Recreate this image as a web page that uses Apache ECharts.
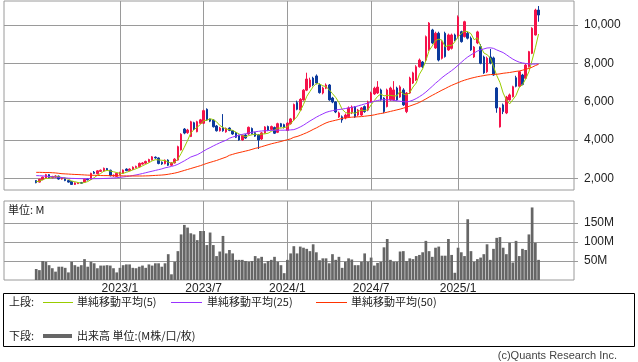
<!DOCTYPE html>
<html><head><meta charset="utf-8">
<script src="https://cdn.jsdelivr.net/npm/echarts@6/dist/echarts.min.js"></script>
<style>html,body{margin:0;padding:0;background:#fff}#c{width:638px;height:362px}</style>
</head><body><div id="c"></div>
<script>
// ---- weekly data from 2022/07/04 to 2025/06/30 (157 weeks) ----
const openP = [1880,1800,1930,2000,2190,2030,2060,2110,1960,2000,1880,1830,1680,1720,1780,1800,1960,1940,2320,2240,2360,2380,2510,2420,2130,2100,2200,2260,2480,2400,2460,2560,2600,2740,2790,2860,2960,3100,3060,2840,2760,2950,2680,2800,2950,3480,4570,4380,4180,4900,4430,4870,4870,5600,5080,5040,4730,4480,4630,4420,4620,4480,4380,4240,4000,4260,4310,4600,4380,4260,4050,4370,4700,4550,4650,4400,4850,4800,4500,4850,5050,5950,5560,6090,6600,6770,7230,7340,6870,6450,6700,6870,6190,5980,5200,5210,5150,5210,5410,5720,5300,5300,5740,5560,5980,6400,6450,6610,6190,5740,6090,6090,6710,6240,6610,5480,6450,6970,7130,7820,8070,8170,8700,9740,8800,9570,8260,9570,8700,8780,9480,9390,9650,9390,9570,9310,8330,9060,8870,8330,7560,8330,8280,6710,4680,5830,5410,6090,6260,7250,6800,7390,7220,7820,8520,9480,10780];
const closeP = [1770,1950,2060,2190,2030,2090,2120,1960,2000,1880,1800,1680,1760,1760,1740,1950,1920,2260,2260,2390,2420,2520,2440,2140,2160,2260,2300,2430,2400,2480,2580,2620,2780,2800,2880,2980,3120,3060,2770,2750,2940,2680,2800,3000,3650,4300,4360,4520,4950,4570,4950,5050,5530,5050,4980,4690,4480,4620,4480,4600,4500,4310,4140,4000,4240,4100,4660,4330,4200,4000,4370,4680,4500,4700,4350,4850,4700,4650,4880,5100,5850,5600,6120,6600,7180,7130,6870,6970,6470,6710,6870,6090,5980,5460,5410,5040,5300,5670,5720,5200,5560,5670,5480,5980,6450,6700,6760,6090,5480,6610,6710,6610,6090,6770,5830,6450,7230,7500,7820,8170,7820,9390,10100,9060,9570,8170,9130,8350,9480,9480,9220,10420,9130,10170,9310,8700,8850,9640,8000,7500,8270,8020,7390,5670,5670,5480,6240,6350,6780,6800,7560,6900,7910,8610,9830,10780,10520];
const lowP = [1740,1780,1900,1980,2000,2000,2030,1930,1930,1850,1770,1650,1650,1700,1710,1780,1890,1920,2230,2210,2330,2350,2410,2100,2080,2070,2170,2230,2370,2370,2430,2530,2570,2710,2750,2830,2930,3020,2730,2700,2730,2640,2650,2770,2920,3450,4300,4320,4150,4520,4400,4830,4830,5000,4930,4650,4440,4440,4430,4380,4460,4270,4100,3960,3960,4060,4270,4290,4160,3530,4000,4330,4460,4500,4310,4360,4660,4600,4460,4800,5000,5550,5520,6050,6550,6700,6800,6900,6420,6380,6650,6050,5920,5400,5150,4900,5080,5150,5350,5150,5250,5250,5420,5500,5950,6350,6400,6050,5400,5700,6050,6050,6050,6200,5780,5400,6400,6920,7080,7780,7750,8100,8650,9000,8750,8100,8200,8300,8650,8720,9150,9300,9080,9350,9250,8650,8280,9000,7950,7450,7500,7950,7350,5420,4650,5350,5350,6050,6220,6750,6750,6850,7180,7780,8480,9450,10170];
const highP = [1900,1970,2090,2230,2220,2130,2160,2140,2040,2030,1910,1850,1790,1800,1810,1980,2000,2290,2380,2420,2460,2560,2540,2450,2200,2290,2340,2460,2520,2520,2620,2660,2820,2840,2920,3020,3160,3140,3090,2880,2980,2990,2840,3050,3700,4350,4620,4580,5000,4950,5000,5100,5580,5650,5120,5080,4780,4680,5350,4650,4660,4520,4420,4280,4280,4300,4700,4650,4420,4300,4420,4720,4750,4750,4700,4900,4890,4850,4930,5150,5900,6050,6180,6650,7510,7250,7300,7420,6950,6780,6950,6920,6250,6020,5480,5280,5380,5750,5800,5760,5620,5720,5800,6050,6520,6780,7070,6680,6230,6680,6780,7070,6780,6850,6700,6500,7300,7560,7900,8250,8120,9450,10150,9800,9650,9650,9200,9650,9550,9550,9550,10500,9700,10220,9650,9400,8900,9700,9000,8400,8350,8750,8350,6760,5700,5900,6300,6420,6830,7350,7600,7450,7960,8650,9880,10850,10990];
const ma5 = [1820,1850,1920,1990,2000,2060,2100,2080,2040,2010,1950,1860,1820,1780,1750,1780,1830,1930,2030,2160,2250,2370,2410,2380,2340,2300,2260,2260,2310,2370,2440,2500,2570,2650,2730,2810,2910,2970,2960,2940,2930,2840,2790,2830,3010,3290,3620,3970,4360,4540,4670,4810,5010,5030,5110,5060,4950,4760,4650,4570,4540,4500,4410,4310,4240,4160,4230,4270,4310,4260,4310,4320,4350,4450,4520,4620,4620,4650,4690,4840,5040,5220,5510,5850,6270,6530,6780,6950,6920,6830,6780,6620,6420,6220,5960,5600,5440,5380,5430,5390,5490,5560,5530,5580,5830,6060,6270,6400,6300,6330,6330,6300,6300,6560,6400,6350,6470,6760,6970,7430,7710,8140,8660,8910,9190,9260,9210,8860,8940,8920,9130,9390,9550,9680,9650,9550,9230,9330,8900,8540,8450,8290,7840,7370,7000,6450,6090,5880,6100,6330,6750,6880,7190,7560,8160,8810,9530];
const ma25 = [2140,2135,2125,2110,2095,2080,2065,2050,2035,2020,2005,1995,1990,1985,1982,1980,1980,1980,1980,1982,1985,1990,1995,2005,2015,2030,2050,2070,2090,2115,2145,2175,2210,2250,2290,2330,2370,2410,2450,2490,2545,2580,2620,2665,2730,2820,2910,3010,3110,3170,3230,3320,3420,3520,3600,3690,3770,3850,3920,3990,4090,4150,4200,4250,4290,4330,4370,4400,4430,4450,4470,4480,4490,4500,4505,4510,4510,4510,4515,4525,4540,4600,4680,4770,4880,4990,5090,5190,5280,5360,5440,5490,5530,5560,5590,5610,5640,5670,5700,5730,5780,5830,5880,5920,5970,6020,6060,6090,6100,6100,6090,6070,6040,6020,6000,5980,6020,6080,6160,6260,6370,6500,6650,6800,6960,7100,7250,7380,7500,7620,7750,7900,8050,8200,8330,8440,8540,8640,8700,8750,8800,8810,8780,8700,8630,8560,8450,8330,8220,8130,8060,8020,7990,7970,7960,7960,7970];
const ma50 = [2310,2310,2305,2300,2300,2290,2280,2260,2240,2230,2220,2210,2200,2195,2185,2175,2165,2160,2155,2150,2145,2140,2140,2135,2135,2130,2130,2125,2125,2120,2120,2120,2120,2120,2125,2130,2140,2150,2160,2170,2185,2210,2240,2270,2310,2360,2410,2460,2510,2560,2610,2660,2720,2780,2830,2880,2930,2990,3050,3110,3200,3250,3300,3340,3380,3420,3460,3510,3560,3600,3650,3700,3750,3800,3840,3880,3920,3970,4010,4060,4140,4180,4240,4310,4380,4460,4550,4630,4720,4810,4890,4950,4990,5030,5070,5130,5150,5170,5190,5200,5210,5220,5240,5260,5280,5310,5350,5380,5410,5450,5490,5530,5570,5610,5660,5710,5770,5830,5890,5960,6050,6140,6240,6330,6420,6510,6600,6680,6770,6850,6920,6990,7060,7120,7170,7220,7260,7300,7330,7360,7390,7410,7420,7430,7450,7480,7500,7520,7550,7580,7600,7640,7690,7730,7800,7880,7950];
const volumeM = [29,26,50,48,39,31,22,35,35,32,20,48,39,35,39,55,35,48,44,31,38,38,39,38,31,20,32,39,41,41,32,31,35,38,32,41,38,44,44,35,44,68,15,48,76,120,145,138,123,120,105,129,129,92,125,92,63,75,116,70,79,70,53,53,53,50,48,50,63,57,61,44,50,53,61,48,39,18,53,70,89,70,88,85,82,76,94,73,52,57,57,44,68,53,61,32,48,57,54,39,39,48,70,48,59,38,45,48,86,108,53,48,48,75,76,50,57,55,63,66,73,103,76,61,85,88,64,64,108,66,19,85,73,63,160,76,48,55,59,68,94,53,82,111,113,85,68,98,46,103,63,82,79,120,191,98,53];
const priceTicks = [2000,4000,6000,8000,10000];
const volumeTicks = [50,100,150];
const tickWeeks = ['2023/01/02','2023/07/03','2024/01/01','2024/07/01','2025/01/06'];
const tickLabels = ['2023/1','2023/7','2024/1','2024/7','2025/1'];

// axis domain: weekly slots from 2022/04/25, data starts at slot 10
const AXIS_WEEKS = 178, FIRST_SLOT = 10;
const cats = [];
for (let k = 0; k < AXIS_WEEKS; k++) {
  const d = new Date(Date.UTC(2022, 3, 25) + k * 7 * 86400000);
  cats.push(d.getUTCFullYear() + '/' + String(d.getUTCMonth() + 1).padStart(2, '0') + '/' + String(d.getUTCDate()).padStart(2, '0'));
}
function slot(arr) { return cats.map((c, k) => { const j = k - FIRST_SLOT; return (j >= 0 && j < arr.length) ? arr[j] : '-'; }); }
const candles = cats.map((c, k) => { const j = k - FIRST_SLOT; return (j >= 0 && j < closeP.length) ? [openP[j], closeP[j], lowP[j], highP[j]] : ['-', '-', '-', '-']; });
const isTick = (i, v) => tickWeeks.indexOf(v) >= 0;

const UP = '#f5124a', DOWN = '#0b3a9c', GRIDC = '#9a9a9a';
const numFont = 'Liberation Sans', jpFont = 'Noto Sans CJK JP';
const L = 4, W = 570;

const chart = echarts.init(document.getElementById('c'), null, { renderer: 'canvas' });
chart.setOption({
  animation: false,
  backgroundColor: '#fff',
  grid: [
    { left: L, top: 1, width: W, height: 189, show: true, borderColor: GRIDC, borderWidth: 1 },
    { left: L, top: 201, width: W, height: 79, show: true, borderColor: GRIDC, borderWidth: 1 }
  ],
  xAxis: [
    { type: 'category', gridIndex: 0, data: cats, boundaryGap: false,
      axisLine: { show: false }, axisTick: { show: false }, axisLabel: { show: false },
      splitLine: { show: true, interval: isTick, lineStyle: { color: GRIDC, width: 1 } } },
    { type: 'category', gridIndex: 1, data: cats, boundaryGap: false,
      axisLine: { show: false }, axisTick: { show: false },
      axisLabel: { show: true, interval: isTick, formatter: v => tickLabels[tickWeeks.indexOf(v)] || '',
        color: '#222', fontSize: 12, fontFamily: numFont, margin: 3 },
      splitLine: { show: true, interval: isTick, lineStyle: { color: GRIDC, width: 1 } } }
  ],
  yAxis: [
    { type: 'value', gridIndex: 0, position: 'right', min: 1389, max: 11252,
      axisLine: { show: false },
      axisTick: { show: true, length: 4, lineStyle: { color: GRIDC }, customValues: priceTicks },
      axisLabel: { customValues: priceTicks, formatter: v => Number(v).toLocaleString('en-US'),
        color: '#222', fontSize: 12, fontFamily: numFont, margin: 10 },
      splitLine: { show: true, lineStyle: { color: GRIDC, width: 1 } } },
    { type: 'value', gridIndex: 1, position: 'right', min: 0, max: 208,
      axisLine: { show: false },
      axisTick: { show: true, length: 4, lineStyle: { color: GRIDC }, customValues: volumeTicks },
      axisLabel: { customValues: volumeTicks, formatter: v => v + 'M',
        color: '#222', fontSize: 12, fontFamily: numFont, margin: 10 },
      splitLine: { show: true, lineStyle: { color: GRIDC, width: 1 } } }
  ],
  series: [
    { type: 'candlestick', xAxisIndex: 0, yAxisIndex: 0, data: candles, barWidth: 2, z: 2,
      itemStyle: { color: UP, color0: DOWN, borderColor: UP, borderColor0: DOWN, borderWidth: 1 } },
    { type: 'line', name: 'MA5', xAxisIndex: 0, yAxisIndex: 0, data: slot(ma5), symbol: 'none', z: 4,
      lineStyle: { color: '#99cc00', width: 1 } },
    { type: 'line', name: 'MA25', xAxisIndex: 0, yAxisIndex: 0, data: slot(ma25), symbol: 'none', z: 4,
      lineStyle: { color: '#9933ff', width: 1 } },
    { type: 'line', name: 'MA50', xAxisIndex: 0, yAxisIndex: 0, data: slot(ma50), symbol: 'none', z: 4,
      lineStyle: { color: '#ff3300', width: 1 } },
    { type: 'bar', xAxisIndex: 1, yAxisIndex: 1, data: slot(volumeM), barWidth: 2.7,
      itemStyle: { color: '#666666' } }
  ],
  graphic: [
    { type: 'text', left: 8, top: 204, style: { text: '単位: M', font: '11px "' + jpFont + '"', fill: '#222' } },
    { type: 'rect', shape: { x: 3.5, y: 293.5, width: 631, height: 53 }, style: { fill: 'none', stroke: '#000', lineWidth: 1 } },
    { type: 'text', x: 9, y: 302, style: { text: '上段:', font: '11px "' + jpFont + '"', fill: '#222', verticalAlign: 'middle' } },
    { type: 'line', shape: { x1: 43, y1: 302.5, x2: 73, y2: 302.5 }, style: { stroke: '#99cc00', lineWidth: 1 } },
    { type: 'text', x: 77, y: 302, style: { text: '単純移動平均(5)', font: '11px "' + jpFont + '"', fill: '#222', verticalAlign: 'middle' } },
    { type: 'line', shape: { x1: 171, y1: 302.5, x2: 202, y2: 302.5 }, style: { stroke: '#9933ff', lineWidth: 1 } },
    { type: 'text', x: 207, y: 302, style: { text: '単純移動平均(25)', font: '11px "' + jpFont + '"', fill: '#222', verticalAlign: 'middle' } },
    { type: 'line', shape: { x1: 316, y1: 302.5, x2: 347, y2: 302.5 }, style: { stroke: '#ff3300', lineWidth: 1 } },
    { type: 'text', x: 351, y: 302, style: { text: '単純移動平均(50)', font: '11px "' + jpFont + '"', fill: '#222', verticalAlign: 'middle' } },
    { type: 'text', x: 9, y: 336, style: { text: '下段:', font: '11px "' + jpFont + '"', fill: '#222', verticalAlign: 'middle' } },
    { type: 'line', shape: { x1: 43, y1: 336, x2: 72, y2: 336 }, style: { stroke: '#666666', lineWidth: 4 } },
    { type: 'text', x: 77, y: 336, style: { text: '出来高 単位:(M株/口/枚)', font: '11px "' + jpFont + '"', fill: '#222', verticalAlign: 'middle' } },
    { type: 'text', x: 617, y: 356, style: { text: '(c)Quants Research Inc.', font: '11px "' + numFont + '"', fill: '#444', align: 'right', verticalAlign: 'middle' } }
  ]
});
</script>
</body></html>
